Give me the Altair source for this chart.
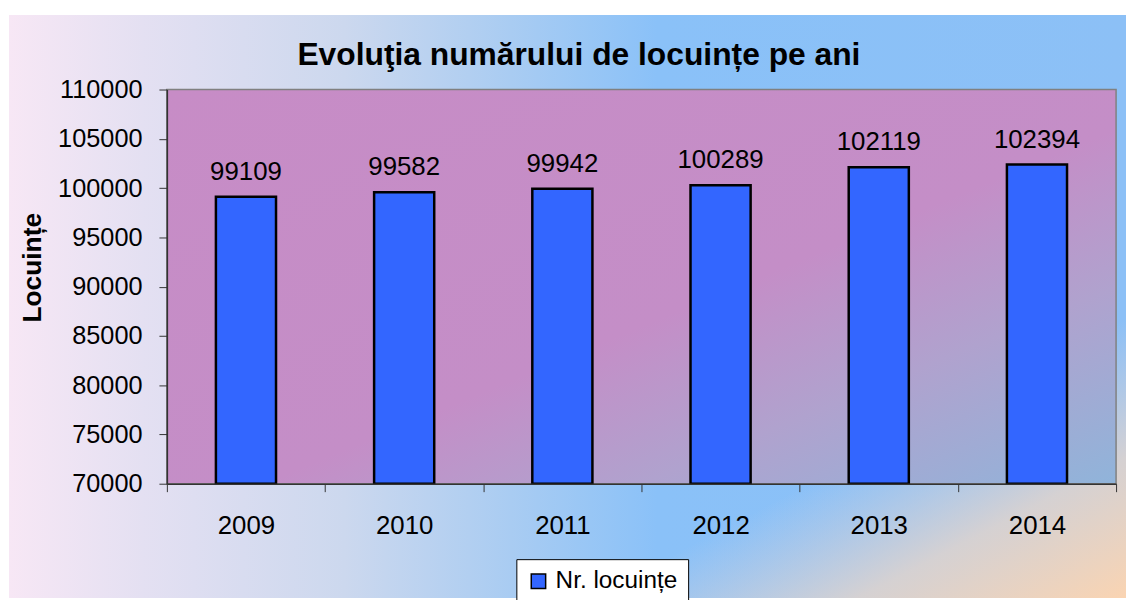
import altair as alt
import pandas as pd

years = ["2009", "2010", "2011", "2012", "2013", "2014"]
values = [99109, 99582, 99942, 100289, 102119, 102394]
series = ["Nr. locuințe"] * 6
y_ticks = [70000, 75000, 80000, 85000, 90000, 95000, 100000, 105000, 110000]

FONT = "Liberation Sans"
W, H = 956, 397

df = pd.DataFrame({"year": years, "value": values, "series": series})
one = alt.Data(values=[{"k": 1}])

bg_linear = {
    "gradient": "linear", "x1": 0, "y1": 0, "x2": 1, "y2": 0,
    "stops": [
        {"offset": 0.0, "color": "#F7E7F5"},
        {"offset": 0.12, "color": "#E4E0F2"},
        {"offset": 0.3, "color": "#CCD8EE"},
        {"offset": 0.45, "color": "#A9CCF2"},
        {"offset": 0.58, "color": "#8AC1F8"},
        {"offset": 1.0, "color": "#8CC0F6"},
    ],
}
bg_corner = {
    "gradient": "linear", "x1": 0, "y1": 0, "x2": 1, "y2": 1,
    "stops": [
        {"offset": 0.0, "color": "rgba(220,210,215,0)"},
        {"offset": 0.76, "color": "rgba(220,210,215,0)"},
        {"offset": 0.88, "color": "rgba(226,212,204,0.85)"},
        {"offset": 1.0, "color": "rgba(250,212,178,1)"},
    ],
}
plot_grad = {
    "gradient": "linear", "x1": 0, "y1": 0, "x2": 1, "y2": 1,
    "stops": [
        {"offset": 0.0, "color": "#C78CC6"},
        {"offset": 0.55, "color": "#C48EC7"},
        {"offset": 0.75, "color": "#B0A2CE"},
        {"offset": 1.0, "color": "#90B4DA"},
    ],
}

bg1 = alt.Chart(one).mark_rect(color=bg_linear).encode(
    x=alt.value(-159), x2=alt.value(W + 10), y=alt.value(-75), y2=alt.value(H + 115)
)
bg2 = alt.Chart(one).mark_rect(color=bg_corner).encode(
    x=alt.value(-159), x2=alt.value(W + 10), y=alt.value(-75), y2=alt.value(H + 115)
)
plotbg = alt.Chart(one).mark_rect(color=plot_grad, stroke="#808080", strokeWidth=1.5).encode(
    x=alt.value(0), x2=alt.value(W), y=alt.value(0), y2=alt.value(H)
)

base = alt.Chart(df)
bars = base.mark_bar(width=alt.RelativeBandSize(0.38), stroke="black", strokeWidth=2.5).encode(
    x=alt.X("year:N", sort=years,
            scale=alt.Scale(paddingInner=0, paddingOuter=0),
            axis=alt.Axis(title=None, labelAngle=0, labelFont=FONT, labelFontSize=26,
                          labelColor="black", labelPadding=21, tickSize=8,
                          tickColor="#333333", domainColor="#333333", domainWidth=1.5,
                          tickBand="extent", zindex=1)),
    y=alt.Y("value:Q",
            scale=alt.Scale(domain=[70000, 110000], nice=False, zero=False),
            axis=alt.Axis(values=y_ticks, format="d", grid=False, labelFont=FONT,
                          labelFontSize=25.5, labelColor="black", labelPadding=17,
                          tickSize=8, tickColor="#333333", domainColor="#333333",
                          domainWidth=1.5, title="Locuințe", titleFont=FONT,
                          titleFontSize=26.5, titleFontWeight="bold", titleColor="black",
                          titleX=-135, titleY=179, titleAngle=270, titleAlign="center",
                          titleBaseline="middle", zindex=1)),
    y2=alt.datum(70000),
    color=alt.Color("series:N", scale=alt.Scale(range=["#3366FF"]),
                    legend=alt.Legend(title=None, orient="none", legendX=352, legendY=473,
                                      fillColor="white", strokeColor="black", padding=10,
                                      symbolType="square", symbolSize=210,
                                      symbolStrokeColor="black", symbolStrokeWidth=1.5,
                                      labelFont=FONT, labelFontSize=24.5, labelColor="black",
                                      labelOffset=5, zindex=1)),
)
labels = base.mark_text(dy=-17, baseline="alphabetic", font=FONT, fontSize=26, color="black").encode(
    x=alt.X("year:N", sort=years), y="value:Q", text=alt.Text("value:Q", format="d")
)

chart = alt.layer(bg1, bg2, plotbg, bars, labels).properties(
    width=W, height=H,
    autosize=alt.AutoSizeParams(type="none"),
    padding={"left": 160, "top": 80, "right": 10, "bottom": 115},
    title=alt.TitleParams("Evoluţia numărului de locuințe pe ani", font=FONT, fontSize=32,
                          fontWeight="bold", color="black", anchor="middle", dx=-63,
                          offset=6, dy=63, zindex=1),
).configure_view(stroke=None).configure(background="white")

chart.save("out.html", embed_options={"renderer": "svg", "actions": False})
